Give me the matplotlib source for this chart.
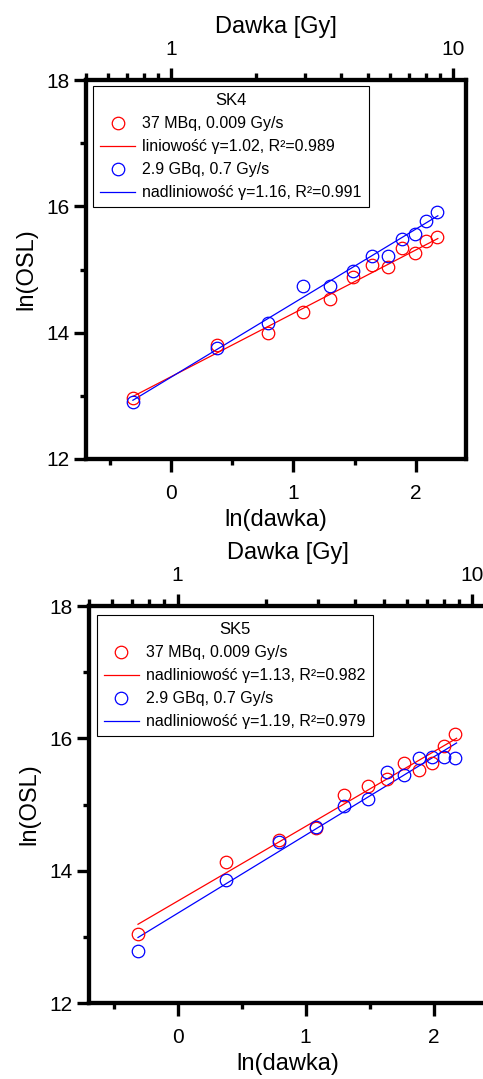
import matplotlib
matplotlib.use("Agg")
import matplotlib.pyplot as plt
import numpy as np
from matplotlib.lines import Line2D

plt.rcParams['font.family'] = ['Liberation Sans', 'DejaVu Sans']

# ln(dose) values, same for both samples
ln_dose = [-0.31, 0.38, 0.79, 1.08, 1.30, 1.49, 1.64, 1.77, 1.89, 1.99, 2.08, 2.17]

# SK4
sk4_red = [12.97, 13.80, 14.00, 14.33, 14.54, 14.88, 15.07, 15.04, 15.34, 15.26, 15.45, 15.52]
sk4_blue = [12.91, 13.76, 14.15, 14.74, 14.74, 14.98, 15.22, 15.22, 15.48, 15.56, 15.76, 15.91]
sk4_red_fit = [12.99, 15.49]
sk4_blue_fit = [12.93, 15.85]

# SK5
sk5_red = [13.04, 14.13, 14.47, 14.64, 15.14, 15.28, 15.38, 15.63, 15.52, 15.63, 15.88, 16.07]
sk5_blue = [12.79, 13.86, 14.44, 14.66, 14.97, 15.09, 15.49, 15.45, 15.71, 15.72, 15.72, 15.71]
sk5_red_fit = [13.19, 16.00]
sk5_blue_fit = [12.99, 15.93]

fit_x = [-0.31, 2.18]

labels_sk4 = ["37 MBq, 0.009 Gy/s", "liniowość γ=1.02, R²=0.989",
              "2.9 GBq, 0.7 Gy/s", "nadliniowość γ=1.16, R²=0.991"]
labels_sk5 = ["37 MBq, 0.009 Gy/s", "nadliniowość γ=1.13, R²=0.982",
              "2.9 GBq, 0.7 Gy/s", "nadliniowość γ=1.19, R²=0.979"]

top_major = [1, 10]
top_minor = [0.5, 0.6, 0.7, 0.8, 0.9, 2, 3, 4, 5, 6, 7, 8, 9]

W, H = 483, 1079
fig = plt.figure(figsize=(W / 100, H / 100), dpi=100)


def panel(rect, red, blue, red_fit, blue_fit, title, labels, leg_xy):
    ax = fig.add_axes(rect)
    ax.plot(fit_x, red_fit, color='red', lw=0.9)
    ax.plot(fit_x, blue_fit, color='blue', lw=0.9)
    ax.plot(ln_dose, red, 'o', mfc='none', mec='red', ms=9, mew=0.9)
    ax.plot(ln_dose, blue, 'o', mfc='none', mec='blue', ms=9, mew=0.9)
    ax.set_xlim(-0.693, 2.41)
    ax.set_ylim(12, 18)
    ax.set_xticks([0, 1, 2])
    ax.set_xticks([-0.5, 0.5, 1.5], minor=True)
    ax.set_yticks([12, 14, 16, 18])
    ax.set_yticks([13, 15, 17], minor=True)
    ax.tick_params(which='major', length=9, width=2.4, labelsize=15, pad=9)
    ax.tick_params(which='minor', length=4.5, width=2.4)
    ax.tick_params(axis='y', which='major', pad=3)
    for s in ax.spines.values():
        s.set_linewidth(3)
    ax.set_xlabel("ln(dawka)", fontsize=17, labelpad=4)
    ax.set_ylabel("ln(OSL)", fontsize=17, labelpad=6)

    top = ax.twiny()
    top.set_xlim(ax.get_xlim())
    top.set_xticks(np.log(top_major))
    top.set_xticklabels([str(v) for v in top_major])
    top.set_xticks(np.log(top_minor), minor=True)
    top.tick_params(which='major', length=9, width=2.4, labelsize=15, pad=6)
    top.tick_params(which='minor', length=5, width=2.4)
    for s in top.spines.values():
        s.set_linewidth(3)
    top.set_xlabel("Dawka [Gy]", fontsize=17, labelpad=5)

    handles = [
        Line2D([], [], ls='none', marker='o', mfc='none', mec='red', ms=9, mew=0.9),
        Line2D([], [], color='red', lw=0.9),
        Line2D([], [], ls='none', marker='o', mfc='none', mec='blue', ms=9, mew=0.9),
        Line2D([], [], color='blue', lw=0.9),
    ]
    leg = top.legend(handles, labels, title=title, loc='upper left',
                     bbox_to_anchor=leg_xy, fontsize=11.5, title_fontsize=12,
                     fancybox=False, edgecolor='black', framealpha=1,
                     handlelength=2.2, handletextpad=0.45, borderpad=0.45,
                     labelspacing=0.5, borderaxespad=0)
    leg.get_frame().set_linewidth(0.8)
    return ax


panel([86 / W, 1 - 459 / H, 380 / W, 379 / H], sk4_red, sk4_blue,
      sk4_red_fit, sk4_blue_fit, "SK4", labels_sk4, (0.018, 0.984))
panel([89 / W, 1 - 1003 / H, 397 / W, 397 / H], sk5_red, sk5_blue,
      sk5_red_fit, sk5_blue_fit, "SK5", labels_sk5, (0.019, 0.977))

fig.savefig("out.png", dpi=100)
